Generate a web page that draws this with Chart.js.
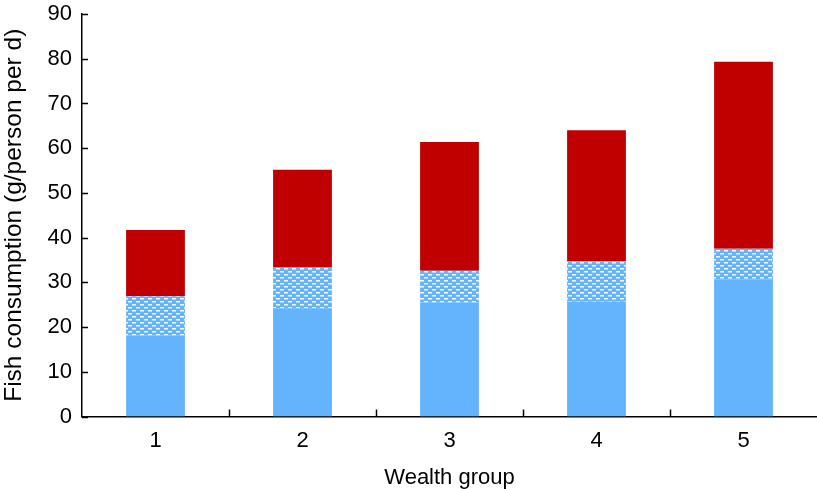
<!DOCTYPE html>
<html>
<head>
<meta charset="utf-8">
<script src="https://cdn.jsdelivr.net/npm/chart.js@4/dist/chart.umd.min.js"></script>
<style>
  html,body{margin:0;padding:0;background:#fff}
  #wrap{width:817px;height:489px;position:relative}
</style>
</head>
<body>
<div id="wrap"><canvas id="c"></canvas></div>
<script>
// data
const groups=['1','2','3','4','5'];
const lowerPart=[18.1,24.2,25.5,25.7,30.7];   // solid light blue
const middlePart=[8.8,9.1,7.1,9.0,6.8];       // dotted light blue
const upperPart=[14.8,21.9,28.8,29.3,41.8];   // red
const yTicks=[0,10,20,30,40,50,60,70,80,90];

const BLUE='#63b3fd', RED='#c00000';
const FONT="'Liberation Sans', Arial, Helvetica, sans-serif";

// white dash pattern over blue for the middle block
function dashPattern(){
  const t=document.createElement('canvas'); t.width=8; t.height=6;
  const g=t.getContext('2d');
  g.fillStyle=BLUE; g.fillRect(0,0,8,6);
  g.fillStyle='rgba(255,255,255,0.95)';
  g.fillRect(0,1,4,1.5); g.fillRect(4,4,4,1.5);
  return g.createPattern(t,'repeat');
}

// ticks: y ticks point into the plot, x ticks sit between groups
const axisTicks={
  id:'axisTicks',
  afterDraw(chart){
    const {ctx,scales:{x,y}}=chart;
    ctx.save(); ctx.strokeStyle='#000'; ctx.lineWidth=1.5;
    yTicks.forEach(v=>{
      const py=Math.round(y.getPixelForValue(v))+0.5;
      ctx.beginPath(); ctx.moveTo(x.left,py); ctx.lineTo(x.left+6,py); ctx.stroke();
    });
    for(let i=0;i<groups.length-1;i++){
      const px=Math.round((x.getPixelForValue(i)+x.getPixelForValue(i+1))/2)+0.5;
      ctx.beginPath(); ctx.moveTo(px,y.bottom); ctx.lineTo(px,y.bottom-7); ctx.stroke();
    }
    ctx.restore();
  }
};

Chart.defaults.font.family=FONT;
Chart.defaults.color='#000';

new Chart(document.getElementById('c'),{
  type:'bar',
  data:{labels:groups,datasets:[
    {data:lowerPart,backgroundColor:BLUE},
    {data:middlePart,backgroundColor:dashPattern()},
    {data:upperPart,backgroundColor:RED}
  ]},
  options:{
    responsive:true,maintainAspectRatio:false,animation:false,
    layout:{padding:{top:14,right:0,left:0,bottom:0}},
    plugins:{legend:{display:false},tooltip:{enabled:false}},
    datasets:{bar:{barPercentage:0.4,categoryPercentage:1,borderWidth:0}},
    scales:{
      x:{stacked:true,offset:true,
        border:{color:'#000',width:1.5},
        grid:{display:false,drawTicks:false},
        ticks:{font:{size:22},padding:11},
        title:{display:true,text:'Wealth group',font:{size:22,lineHeight:1},padding:{top:0,bottom:0}},
        afterFit(s){s.height=72.5}
      },
      y:{stacked:true,min:0,max:90,
        border:{color:'#000',width:1.5},
        grid:{display:false,drawTicks:false},
        afterBuildTicks(s){s.ticks=yTicks.map(v=>({value:v}))},
        ticks:{font:{size:22},padding:10},
        title:{display:true,text:'Fish consumption (g/person per d)',font:{size:24.5},padding:{top:0,bottom:0}},
        afterFit(s){s.width=82; s.paddingTop=0; s.paddingBottom=0}
      }
    }
  },
  plugins:[axisTicks]
});
</script>
</body>
</html>
